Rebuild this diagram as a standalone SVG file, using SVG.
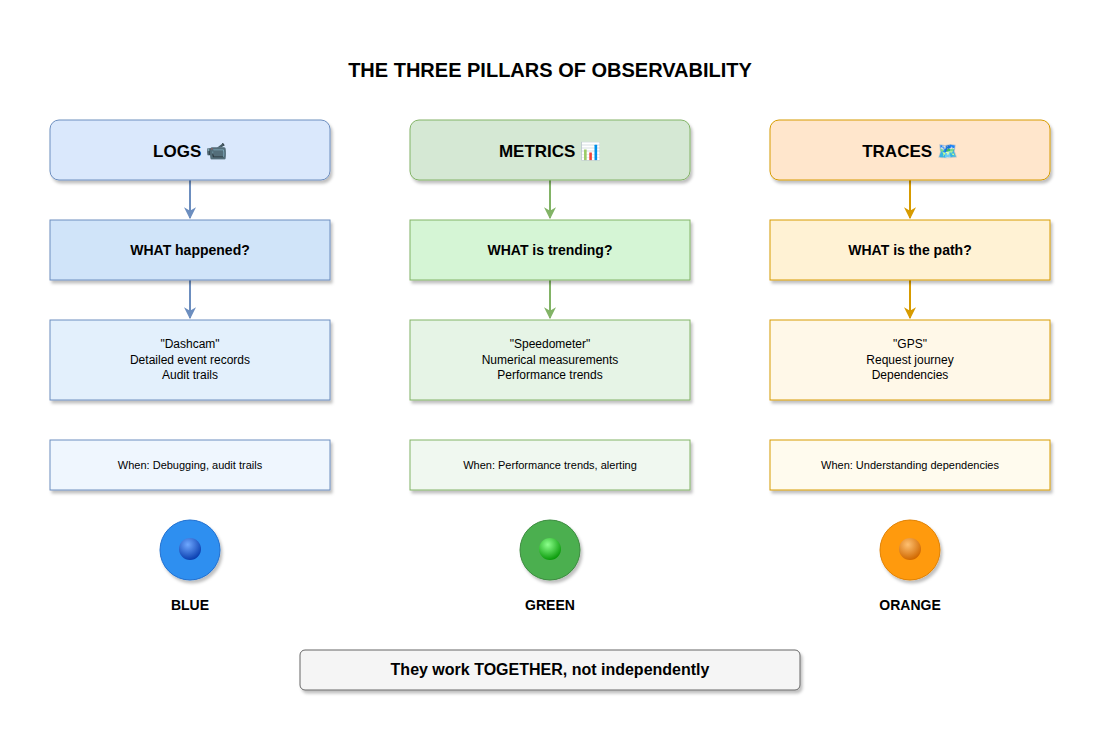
<svg xmlns="http://www.w3.org/2000/svg" width="1107" height="747" viewBox="0 0 1107 747">
<defs>
<filter id="sh" x="-10%" y="-10%" width="130%" height="140%"><feDropShadow dx="2" dy="3" stdDeviation="1.5" flood-color="#000" flood-opacity="0.25"/></filter>
<marker id="ab" viewBox="0 0 10 10" refX="9" refY="5" markerWidth="6" markerHeight="6" orient="auto"><path d="M0,0 L10,5 L0,10 L3,5 z" fill="#6c8ebf"/></marker>
<marker id="ag" viewBox="0 0 10 10" refX="9" refY="5" markerWidth="6" markerHeight="6" orient="auto"><path d="M0,0 L10,5 L0,10 L3,5 z" fill="#82b366"/></marker>
<marker id="ao" viewBox="0 0 10 10" refX="9" refY="5" markerWidth="6" markerHeight="6" orient="auto"><path d="M0,0 L10,5 L0,10 L3,5 z" fill="#d79b00"/></marker>
<radialGradient id="gb" cx="40%" cy="30%" r="70%"><stop offset="0" stop-color="#6fa8ff"/><stop offset="1" stop-color="#0a3fb0"/></radialGradient>
<radialGradient id="gg" cx="40%" cy="30%" r="70%"><stop offset="0" stop-color="#8cff8c"/><stop offset="1" stop-color="#0a9a0a"/></radialGradient>
<radialGradient id="go" cx="40%" cy="30%" r="70%"><stop offset="0" stop-color="#ffc070"/><stop offset="1" stop-color="#d06800"/></radialGradient>
</defs>
<style>
text{font-family:"Liberation Sans",Arial,sans-serif;text-anchor:middle;fill:#000}
.h{font-size:17px;font-weight:bold}
.q{font-size:14px;font-weight:bold}
.d{font-size:12px}
.w{font-size:11px}
.c{font-size:14px;font-weight:bold}
rect{filter:url(#sh)}
</style>
<text x="550" y="77" style="font-size:20px;font-weight:bold">THE THREE PILLARS OF OBSERVABILITY</text>
<g id="connectors" stroke-width="2" fill="none">
<path d="M190,180 V218" stroke="#6c8ebf" marker-end="url(#ab)"/>
<path d="M190,280 V318" stroke="#6c8ebf" marker-end="url(#ab)"/>
<path d="M550,180 V218" stroke="#82b366" marker-end="url(#ag)"/>
<path d="M550,280 V318" stroke="#82b366" marker-end="url(#ag)"/>
<path d="M910,180 V218" stroke="#d79b00" marker-end="url(#ao)"/>
<path d="M910,280 V318" stroke="#d79b00" marker-end="url(#ao)"/>
</g>
<g id="logs"><rect x="50" y="120" width="280" height="60" rx="9" fill="#dae8fc" stroke="#6c8ebf"/><text x="190" y="157" class="h">LOGS 📹</text></g>
<g id="logs-q"><rect x="50" y="220" width="280" height="60" fill="#d0e4f9" stroke="#6c8ebf"/><text x="190" y="255" class="q">WHAT happened?</text></g>
<g id="logs-d"><rect x="50" y="320" width="280" height="80" fill="#e3f0fc" stroke="#6c8ebf"/><text x="190" y="348" class="d">"Dashcam"</text><text x="190" y="364" class="d">Detailed event records</text><text x="190" y="379" class="d">Audit trails</text></g>
<g id="logs-w"><rect x="50" y="440" width="280" height="50" fill="#eff6fe" stroke="#6c8ebf"/><text x="190" y="469" class="w">When: Debugging, audit trails</text></g>
<g id="metrics"><rect x="410" y="120" width="280" height="60" rx="9" fill="#d5e8d4" stroke="#82b366"/><text x="550" y="157" class="h">METRICS 📊</text></g>
<g id="metrics-q"><rect x="410" y="220" width="280" height="60" fill="#d5f5d5" stroke="#82b366"/><text x="550" y="255" class="q">WHAT is trending?</text></g>
<g id="metrics-d"><rect x="410" y="320" width="280" height="80" fill="#e6f4e6" stroke="#82b366"/><text x="550" y="348" class="d">"Speedometer"</text><text x="550" y="364" class="d">Numerical measurements</text><text x="550" y="379" class="d">Performance trends</text></g>
<g id="metrics-w"><rect x="410" y="440" width="280" height="50" fill="#f0f8f0" stroke="#82b366"/><text x="550" y="469" class="w">When: Performance trends, alerting</text></g>
<g id="traces"><rect x="770" y="120" width="280" height="60" rx="9" fill="#ffe6cc" stroke="#d79b00"/><text x="910" y="157" class="h">TRACES 🗺️</text></g>
<g id="traces-q"><rect x="770" y="220" width="280" height="60" fill="#fff2d4" stroke="#d79b00"/><text x="910" y="255" class="q">WHAT is the path?</text></g>
<g id="traces-d"><rect x="770" y="320" width="280" height="80" fill="#fff8e8" stroke="#d79b00"/><text x="910" y="348" class="d">"GPS"</text><text x="910" y="364" class="d">Request journey</text><text x="910" y="379" class="d">Dependencies</text></g>
<g id="traces-w"><rect x="770" y="440" width="280" height="50" fill="#fffbee" stroke="#d79b00"/><text x="910" y="469" class="w">When: Understanding dependencies</text></g>
<g id="blue"><circle cx="190" cy="550" r="30" fill="#2f8ff0" stroke="#1f6fd0" filter="url(#sh)"/><circle cx="190" cy="549" r="11" fill="url(#gb)"/><text x="190" y="610" class="c">BLUE</text></g>
<g id="green"><circle cx="550" cy="550" r="30" fill="#4caf50" stroke="#3a8a3d" filter="url(#sh)"/><circle cx="550" cy="549" r="11" fill="url(#gg)"/><text x="550" y="610" class="c">GREEN</text></g>
<g id="orange"><circle cx="910" cy="550" r="30" fill="#ff9a10" stroke="#e08000" filter="url(#sh)"/><circle cx="910" cy="549" r="11" fill="url(#go)"/><text x="910" y="610" class="c">ORANGE</text></g>
<g id="together"><rect x="300" y="650" width="500" height="40" rx="5" fill="#f5f5f5" stroke="#666"/><text x="550" y="675" style="font-size:16px;font-weight:bold">They work TOGETHER, not independently</text></g>
</svg>
